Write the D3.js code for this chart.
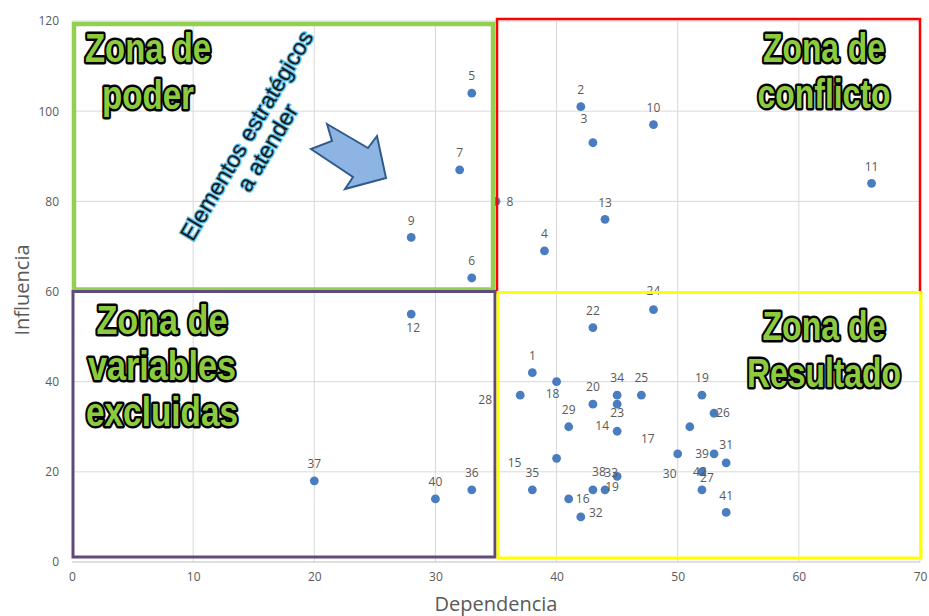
<!DOCTYPE html>
<html><head><meta charset="utf-8">
<script src="https://cdn.jsdelivr.net/npm/d3@7"></script>
<style>
html,body{margin:0;padding:0;background:#fff;}
svg{display:block;}
</style></head>
<body>
<svg id="chart" width="929" height="616"></svg>
<script>
// ---- data ----
const labels = ["1","2","3","4","5","6","7","8","9","10","11","12","13","14","15","16","17","18","19","19","20","22","23","24","25","26","27","28","29","30","31","32","33","34","35","36","37","38","39","40","41","42"];
const dependencia = [38,42,43,39,33,33,32,35,28,48,66,28,44,45,40,41,51,40,52,44,43,43,45,48,47,53,52,37,41,50,54,42,45,45,38,33,20,43,53,30,54,52];
const influencia  = [42,101,93,69,104,63,87,80,72,97,84,55,76,29,23,14,30,40,37,16,35,52,35,56,37,33,16,37,30,24,22,10,19,37,16,16,18,16,24,14,11,20];
const xTicks = [0,10,20,30,40,50,60,70];
const yTicks = [0,20,40,60,80,100,120];
const zoneNames = [["Zona de","poder"],["Zona de","conflicto"],["Zona de","variables","excluidas"],["Zona de","Resultado"]];

// label placement (layout only): offsets of label centre from dot, by index
const labelOffset = {
  2:[-9,-24], 7:[14,0], 11:[2,14], 13:[-15,-5], 14:[-42,4], 15:[14,0], 16:[-42,12],
  17:[-4,12], 19:[7,-3], 22:[0,9], 23:[0,-19], 25:[9,0], 26:[5,-12], 27:[-35,5], 29:[-8,20],
  30:[0,-18], 31:[15,-4], 32:[-6,-4], 37:[6,-18], 38:[-12,0], 41:[-2,0]
};

const svg = d3.select("#chart");
const x = d3.scaleLinear().domain([0,70]).range([72,920]);
const y = d3.scaleLinear().domain([0,120]).range([562,21]);
const gray = "#595959";

// gridlines
svg.append("g").selectAll("line").data(xTicks.slice(1)).join("line")
  .attr("x1",d=>x(d)).attr("x2",d=>x(d)).attr("y1",y(0)).attr("y2",y(120))
  .attr("stroke","#d9d9d9").attr("stroke-width",1);
svg.append("g").selectAll("line").data(yTicks.slice(1)).join("line")
  .attr("x1",x(0)).attr("x2",x(70)).attr("y1",d=>y(d)).attr("y2",d=>y(d))
  .attr("stroke","#d9d9d9").attr("stroke-width",1);
svg.append("line").attr("x1",x(0)).attr("x2",x(70)).attr("y1",y(0)).attr("y2",y(0))
  .attr("stroke","#bfbfbf").attr("stroke-width",1);

// axes
const xAxis = svg.append("g").attr("transform",`translate(0,${y(0)})`)
  .call(d3.axisBottom(x).tickValues(xTicks).tickSize(0).tickPadding(10));
const yAxis = svg.append("g").attr("transform",`translate(${x(0)},0)`)
  .call(d3.axisLeft(y).tickValues(yTicks).tickSize(0).tickPadding(13));
[xAxis,yAxis].forEach(a=>{
  a.select(".domain").remove();
  a.selectAll("text").attr("fill",gray).attr("font-size","12px")
   .attr("font-family","'Liberation Sans Narrow','Open Sans',sans-serif");
});

svg.append("text").text("Dependencia").attr("x",496).attr("y",611)
  .attr("text-anchor","middle").attr("fill",gray).attr("font-size","20px")
  .attr("font-family","'Open Sans','Liberation Sans',sans-serif");
svg.append("text").text("Influencia").attr("transform","translate(29,290) rotate(-90)")
  .attr("text-anchor","middle").attr("fill",gray).attr("font-size","20px")
  .attr("font-family","'Open Sans','Liberation Sans',sans-serif");

// points
const pts = labels.map((l,i)=>({l, xv:dependencia[i], yv:influencia[i], i}));
svg.append("g").selectAll("circle").data(pts).join("circle")
  .attr("cx",d=>x(d.xv)).attr("cy",d=>y(d.yv)).attr("r",4.4).attr("fill","#4a7dc0");
svg.append("g").selectAll("text").data(pts).join("text")
  .attr("x",d=>x(d.xv)+(labelOffset[d.i]||[0,-17])[0])
  .attr("y",d=>y(d.yv)+(labelOffset[d.i]||[0,-17])[1])
  .attr("dy","0.35em").attr("text-anchor","middle")
  .attr("fill",gray).attr("font-size","12px")
  .attr("font-family","'Open Sans','Liberation Sans',sans-serif")
  .text(d=>d.l);

// zones (data coordinates x:0-35-70, y:0-60-120)
const zones = [
  {x0:0,x1:35,y0:60,y1:120,c:"#92d050",w:4.5, inset:[2,-3,3,-2]},
  {x0:35,x1:70,y0:60,y1:120,c:"#ff0000",w:2.5, inset:[1,0,-2,1]},
  {x0:0,x1:35,y0:0,y1:60,c:"#604a7b",w:3, inset:[1,-1,0,-5]},
  {x0:35,x1:70,y0:0,y1:60,c:"#ffff00",w:3, inset:[2,1,1,-4]}
];
svg.append("g").selectAll("rect").data(zones).join("rect")
  .attr("x",d=>x(d.x0)+d.inset[0])
  .attr("y",d=>y(d.y1)+d.inset[2])
  .attr("width",d=>x(d.x1)-x(d.x0)-d.inset[0]+d.inset[1])
  .attr("height",d=>y(d.y0)-y(d.y1)-d.inset[2]+d.inset[3])
  .attr("fill","none").attr("stroke",d=>d.c).attr("stroke-width",d=>d.w);

// zone titles
const titlePos = [
  {cx:148, y0:62, lh:47, lens:[126,92]},
  {cx:824, y0:62, lh:46, lens:[122,133]},
  {cx:162, y0:334, lh:46, lens:[131,148,152]},
  {cx:824, y0:340, lh:47, lens:[123,154]}
];
zoneNames.forEach((lines,k)=>{
  const p = titlePos[k];
  const g = svg.append("g");
  lines.forEach((t,j)=>{
    g.append("text").text(t).attr("x",p.cx).attr("y",p.y0+j*p.lh)
      .attr("text-anchor","middle")
      .attr("font-family","'Liberation Sans Narrow','Liberation Sans',sans-serif")
      .attr("font-weight","bold").attr("font-size","40px")
      .attr("textLength",p.lens[j]).attr("lengthAdjust","spacingAndGlyphs")
      .attr("fill","#8dcb3e").attr("stroke","#000").attr("stroke-width",5)
      .attr("stroke-linejoin","round").attr("paint-order","stroke");
  });
});

// diagonal note
const note = svg.append("g").attr("transform","translate(256,141) rotate(-59.5)");
[["Elementos estratégicos",-11],["a atender",13]].forEach(([t,dy])=>{
  note.append("text").text(t).attr("x",0).attr("y",dy).attr("dy","0.35em")
    .attr("text-anchor","middle")
    .attr("font-family","'Liberation Sans','Arial',sans-serif").attr("font-size","23px")
    .attr("fill","#1a1a1a").attr("stroke","#5ec4ee").attr("stroke-width",2.4)
    .attr("paint-order","stroke");
});

// arrow
const arrow = [[327,124],[368,148],[377,136],[386,178],[345,189],[353,177],[311,149],[332,141]];
svg.append("path").attr("d","M"+arrow.map(p=>p.join(",")).join("L")+"Z")
  .attr("fill","#8eb4e3").attr("stroke","#2f5b8c").attr("stroke-width",2).attr("stroke-linejoin","miter");
</script>
</body></html>
